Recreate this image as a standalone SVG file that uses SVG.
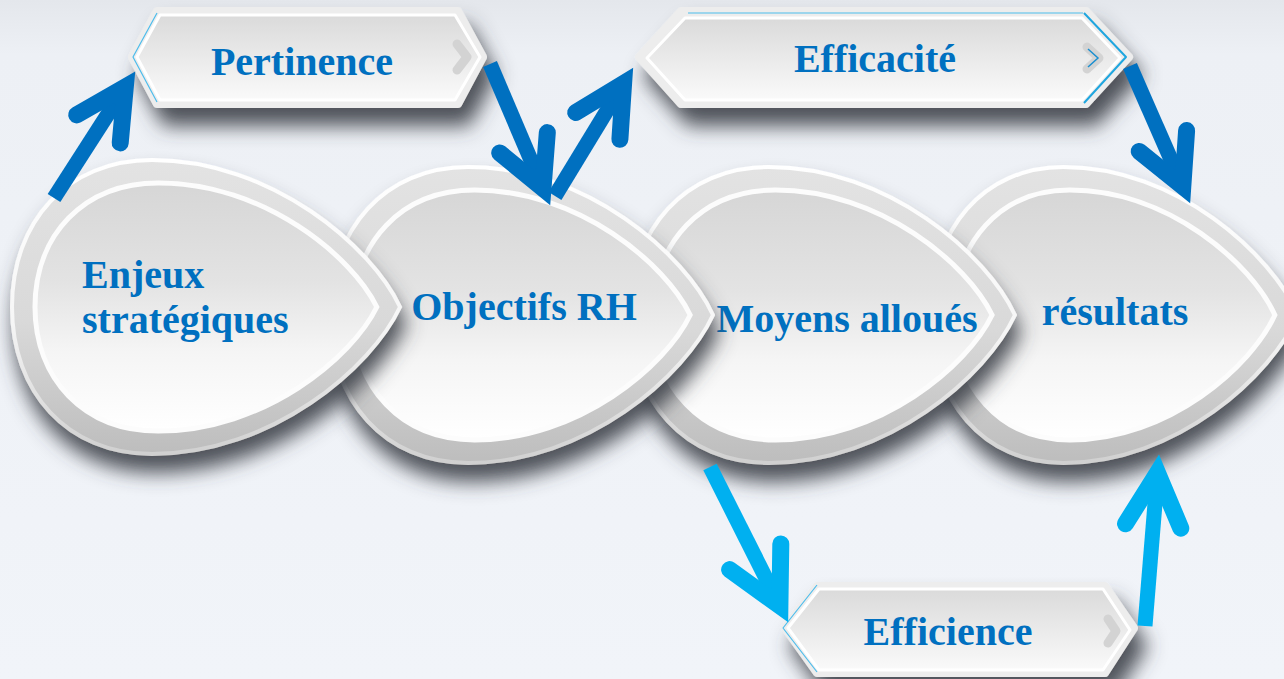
<svg xmlns="http://www.w3.org/2000/svg" xmlns:xlink="http://www.w3.org/1999/xlink" width="1284" height="679" viewBox="0 0 1284 679">
  <defs>
    <style>
      .t{font-family:"Liberation Serif","Times New Roman",serif;font-weight:bold;font-size:40px;fill:#0070c0}
      .ring{fill:url(#gBand);stroke:url(#gRim);stroke-width:4}
      .core{fill:url(#gCore);stroke:#fcfcfc;stroke-width:5}
      .hexOut{fill:#ededed;stroke:#ededed;stroke-width:8;stroke-linejoin:round}
      .hexIn{fill:url(#gHex);stroke:#ffffff;stroke-width:3;stroke-linejoin:round}
      .chev{fill:none;stroke:#d3d3d3;stroke-width:9;stroke-linecap:round;stroke-linejoin:round}
      .edge{fill:none;stroke:#4dbdec;stroke-width:1.2;stroke-linejoin:round}
      .dk{stroke:#0070c0}
      .lt{stroke:#00b0f0}
      .shaft{fill:none;stroke-width:15}
      .head{fill:none;stroke-width:17;stroke-linecap:round;stroke-linejoin:miter;stroke-miterlimit:6}
    </style>
    <linearGradient id="gBg" x1="0" y1="0" x2="0" y2="1">
      <stop offset="0" stop-color="#e4e7ec"/>
      <stop offset="0.08" stop-color="#edf0f5"/>
      <stop offset="1" stop-color="#f1f4f9"/>
    </linearGradient>
    <linearGradient id="gBand" x1="0" y1="0" x2="0" y2="1">
      <stop offset="0" stop-color="#e3e3e3"/>
      <stop offset="0.55" stop-color="#d9d9d9"/>
      <stop offset="1" stop-color="#bdbdbd"/>
    </linearGradient>
    <linearGradient id="gRim" x1="0" y1="0" x2="0" y2="1">
      <stop offset="0" stop-color="#ffffff"/>
      <stop offset="0.55" stop-color="#f6f6f6"/>
      <stop offset="1" stop-color="#d0d0d0"/>
    </linearGradient>
    <linearGradient id="gCore" x1="0" y1="0" x2="0" y2="1">
      <stop offset="0" stop-color="#d6d6d6"/>
      <stop offset="0.4" stop-color="#e3e3e3"/>
      <stop offset="0.68" stop-color="#f5f5f5"/>
      <stop offset="1" stop-color="#ffffff"/>
    </linearGradient>
    <linearGradient id="gHex" x1="0" y1="0" x2="0" y2="1">
      <stop offset="0" stop-color="#dadada"/>
      <stop offset="1" stop-color="#fafafa"/>
    </linearGradient>
    <filter id="fDrop" x="-15%" y="-15%" width="135%" height="150%">
      <feGaussianBlur in="SourceAlpha" stdDeviation="10"/>
      <feOffset dx="4" dy="17" result="b"/>
      <feFlood flood-color="#3c4048" flood-opacity="0.9"/>
      <feComposite in2="b" operator="in"/>
      <feMerge><feMergeNode/><feMergeNode in="SourceGraphic"/></feMerge>
    </filter>
    <filter id="fHex" x="-10%" y="-30%" width="125%" height="200%">
      <feGaussianBlur in="SourceAlpha" stdDeviation="10"/>
      <feOffset dx="9" dy="18" result="b"/>
      <feFlood flood-color="#3c4048" flood-opacity="0.9"/>
      <feComposite in2="b" operator="in"/>
      <feMerge><feMergeNode/><feMergeNode in="SourceGraphic"/></feMerge>
    </filter>
    <!-- teardrop, left edge at x=0, point at x=388, centred on y=0 -->
    <path id="drop" vector-effect="non-scaling-stroke" d="M388,0 C360,-60 260,-147 140,-147 C55,-147 0,-85 0,0 C0,85 55,147 140,147 C260,147 360,60 388,0 Z"/>
  </defs>

  <rect width="1284" height="679" fill="url(#gBg)"/>

  <!-- drops, back to front -->
  <g id="node-resultats">
    <use href="#drop" class="ring" filter="url(#fDrop)" transform="translate(931,315) scale(0.946,1.007)"/>
    <use href="#drop" class="core" transform="translate(954,315) scale(0.827,0.85)"/>
    <text class="t" x="1115" y="325" text-anchor="middle">résultats</text>
  </g>
  <g id="node-moyens">
    <use href="#drop" class="ring" filter="url(#fDrop)" transform="translate(630,315) scale(0.992,1.007)"/>
    <use href="#drop" class="core" transform="translate(653,315) scale(0.874,0.85)"/>
    <text class="t" x="847" y="332" text-anchor="middle">Moyens alloués</text>
  </g>
  <g id="node-objectifs">
    <use href="#drop" class="ring" filter="url(#fDrop)" transform="translate(330,315) scale(0.987,1.007)"/>
    <use href="#drop" class="core" transform="translate(353,315) scale(0.869,0.85)"/>
    <text class="t" x="524" y="320" text-anchor="middle">Objectifs RH</text>
  </g>
  <g id="node-enjeux">
    <use href="#drop" class="ring" filter="url(#fDrop)" transform="translate(12,307)"/>
    <use href="#drop" class="core" transform="translate(35,307) scale(0.881,0.844)"/>
    <text class="t" x="82" y="288">Enjeux</text>
    <text class="t" x="82" y="333">stratégiques</text>
  </g>

  <!-- banners -->
  <g id="node-pertinence">
    <polygon class="hexOut" filter="url(#fHex)" points="132,57 157,11 458,11 483,57 458,104 157,104"/>
    <polygon class="hexIn" points="137,57 160,15 455,15 480,57 455,100 160,100"/>
    <polyline class="edge" points="157,13 133,57 157,102"/>
    <polyline class="chev" points="457,44 467,57 457,70"/>
    <text class="t" x="302" y="75" text-anchor="middle">Pertinence</text>
  </g>
  <g id="node-efficacite">
    <polygon class="hexOut" filter="url(#fHex)" points="639,57 681,11 1086,11 1129,57 1086,104 681,104"/>
    <polygon class="hexIn" points="647,58 685,18 1082,18 1120,58 1082,100 685,100"/>
    <polyline class="edge" points="688,13 1083,13"/>
    <polyline fill="none" stroke="#1fa6df" stroke-width="2" stroke-linejoin="round" points="1084,13 1126,57 1084,103"/>
    <polyline class="chev" points="1087,47 1099,58 1087,69"/>
    <polyline fill="none" stroke="#1a8fd0" stroke-width="1.5" points="1088,49 1098,58 1088,67"/>
    <text class="t" x="875" y="72" text-anchor="middle">Efficacité</text>
  </g>
  <g id="node-efficience">
    <polygon class="hexOut" filter="url(#fHex)" points="785,628 817,586 1105,586 1134,628 1105,673 817,673"/>
    <polygon class="hexIn" points="788,628 819,589 1103,589 1130,630 1103,670 819,670"/>
    <polyline class="edge" points="817,585 783,628 817,672"/>
    <polyline class="chev" points="1108,619 1116,631 1108,643"/>
    <text class="t" x="948" y="645" text-anchor="middle">Efficience</text>
  </g>

  <!-- connectors -->
  <g id="connectors">
    <g class="dk">
      <line class="shaft" x1="54" y1="198" x2="125.3" y2="87.1"/>
      <polyline class="head" points="76.7,114.9 125.3,87.1 120.2,142.9"/>
      <line class="shaft" x1="490" y1="64" x2="543" y2="188.4"/>
      <polyline class="head" points="547.3,132.6 543,188.4 499.7,152.9"/>
      <line class="shaft" x1="555" y1="196" x2="623.6" y2="83.4"/>
      <polyline class="head" points="575.7,112.4 623.6,83.4 619.9,139.3"/>
      <line class="shaft" x1="1130" y1="66" x2="1182.8" y2="186.5"/>
      <polyline class="head" points="1186.6,130.6 1182.8,186.5 1139.2,151.4"/>
    </g>
    <g class="lt">
      <line class="shaft" stroke-width="14" x1="710" y1="467" x2="779.9" y2="605.9"/>
      <polyline class="head" points="780.8,543.9 779.9,605.9 729.6,569.6"/>
      <line class="shaft" stroke-width="14" x1="1145" y1="626" x2="1157.5" y2="472.9"/>
      <polyline class="head" points="1125.5,523.7 1157.5,472.9 1180.8,528.2"/>
    </g>
  </g>
</svg>
